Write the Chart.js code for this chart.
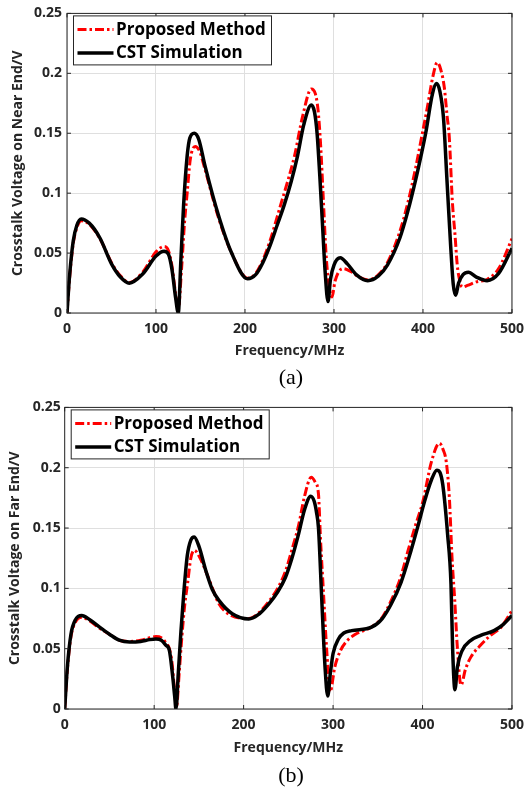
<!DOCTYPE html>
<html>
<head>
<meta charset="utf-8">
<script src="https://cdn.jsdelivr.net/npm/chart.js@4.4.1/dist/chart.umd.min.js"></script>
<style>
  body { margin: 0; background: #fff; width: 532px; height: 795px; position: relative; overflow: hidden; }
  .panel { position: absolute; left: 0; width: 532px; }
  .caption { position: absolute; width: 60px; text-align: center; font-family: "Liberation Serif", serif; font-size: 22px; line-height: 26px; color: #000; }
</style>
</head>
<body>
<div class="panel" style="top:0px;height:390px"><canvas id="near" width="532" height="390"></canvas></div>
<div class="panel" style="top:395px;height:400px"><canvas id="far" width="532" height="400"></canvas></div>
<div class="caption" style="left:261px;top:364px">(a)</div>
<div class="caption" style="left:261px;top:762px">(b)</div>
<script>
// (a) near end crosstalk
const nearFreqCST = [0, 3, 7, 11, 16, 25, 37, 50, 60, 70, 85, 100, 109, 114, 118, 122, 125, 128, 131, 135, 138, 143, 148, 155, 170, 185, 203, 212, 220, 228, 236, 244, 252, 259, 266, 274.5, 278, 281, 284, 287, 290, 293.3, 296, 300, 307, 315, 325, 338, 350, 360, 374, 383, 392, 398, 403, 410.7, 415, 419, 423, 427, 431, 434, 436.7, 440, 445, 451, 460, 472, 485, 500];
const nearCST = [0, 0.032, 0.06, 0.073, 0.0785, 0.075, 0.0626, 0.041, 0.03, 0.0249, 0.0325, 0.0475, 0.0515, 0.049, 0.036, 0.013, 0, 0.045, 0.09, 0.131, 0.146, 0.150, 0.145, 0.123, 0.082, 0.050, 0.0285, 0.032, 0.042, 0.056, 0.073, 0.090, 0.110, 0.131, 0.157, 0.1735, 0.168, 0.150, 0.115, 0.075, 0.035, 0.0095, 0.028, 0.040, 0.046, 0.041, 0.032, 0.027, 0.031, 0.040, 0.0626, 0.085, 0.112, 0.132, 0.150, 0.183, 0.1915, 0.185, 0.163, 0.11, 0.057, 0.024, 0.0148, 0.025, 0.032, 0.034, 0.030, 0.027, 0.033, 0.054];
const nearFreqProp = [0, 3, 7, 11, 16, 25, 37, 50, 60, 70, 85, 100, 109, 114, 118, 122, 125, 129, 132, 135, 138.5, 144, 149, 155, 170, 185, 203, 212, 220, 228, 240, 248, 255.6, 265, 274.5, 279, 282, 285, 288, 291, 294, 297.8, 301, 305, 310, 318, 328, 338, 350, 360, 374, 383, 392, 398, 405, 411, 416, 420, 424, 427, 429.5, 433, 436, 438.5, 441, 444, 450, 460, 472, 485, 500];
const nearProp = [0, 0.03, 0.058, 0.071, 0.077, 0.074, 0.062, 0.042, 0.031, 0.0255, 0.034, 0.051, 0.0555, 0.052, 0.039, 0.016, 0.003, 0.04, 0.075, 0.10, 0.128, 0.139, 0.135, 0.12, 0.080, 0.050, 0.029, 0.033, 0.044, 0.060, 0.090, 0.110, 0.131, 0.165, 0.187, 0.183, 0.170, 0.140, 0.095, 0.05, 0.025, 0.0134, 0.026, 0.034, 0.037, 0.035, 0.030, 0.0275, 0.032, 0.042, 0.068, 0.092, 0.122, 0.145, 0.172, 0.197, 0.209, 0.203, 0.188, 0.165, 0.147, 0.093, 0.065, 0.04, 0.028, 0.0216, 0.023, 0.026, 0.028, 0.037, 0.062];

// (b) far end crosstalk
const farFreqCST = [0, 3, 7, 12, 19, 28, 39, 50, 61, 72.6, 85, 95, 102, 108, 113, 117, 120.7, 123, 124.4, 127, 130, 133, 137, 141, 144.8, 150, 157.8, 165, 172.6, 187.3, 205.9, 216, 228, 238, 246.7, 254, 261.4, 268, 275, 279, 281.5, 283.7, 287.4, 291, 294, 297, 300, 306, 312, 320.7, 343, 355, 365, 376, 387, 395, 402.2, 410, 416, 419.5, 422.6, 428, 431.8, 433.7, 436.2, 439, 444, 454, 465, 480, 490, 500];
const farCST = [0, 0.035, 0.062, 0.074, 0.0775, 0.074, 0.0678, 0.062, 0.057, 0.0555, 0.056, 0.0575, 0.058, 0.057, 0.053, 0.0486, 0.027, 0.01, 0, 0.03, 0.065, 0.095, 0.127, 0.140, 0.1426, 0.135, 0.1146, 0.099, 0.0898, 0.079, 0.0747, 0.078, 0.087, 0.097, 0.109, 0.125, 0.145, 0.165, 0.1764, 0.172, 0.163, 0.150, 0.09, 0.035, 0.0107, 0.03, 0.046, 0.058, 0.063, 0.065, 0.0678, 0.075, 0.087, 0.105, 0.131, 0.152, 0.172, 0.19, 0.198, 0.196, 0.186, 0.145, 0.1036, 0.0486, 0.016, 0.035, 0.048, 0.0569, 0.061, 0.065, 0.070, 0.0775];
const farFreqProp = [0, 3, 7, 12, 19, 28, 39, 50, 61, 72.6, 85, 95, 102, 108, 113, 117, 120, 122.5, 125, 128, 131, 134, 137.5, 141, 145, 150, 160, 172.6, 185, 205.9, 216, 228, 238, 246.7, 254, 261.4, 268, 275.5, 280, 283.7, 286, 289, 292.9, 296.7, 302, 308, 315, 325, 343, 355, 365, 375, 383.7, 392, 400.4, 410, 418.9, 423, 426.5, 430, 433, 436, 439, 443, 448, 454, 465, 476, 488, 500];
const farProp = [0, 0.033, 0.06, 0.072, 0.076, 0.073, 0.067, 0.062, 0.057, 0.056, 0.057, 0.059, 0.060, 0.059, 0.055, 0.050, 0.038, 0.018, 0.002, 0.03, 0.06, 0.085, 0.105, 0.125, 0.1316, 0.127, 0.110, 0.087, 0.078, 0.075, 0.079, 0.089, 0.100, 0.114, 0.132, 0.152, 0.176, 0.192, 0.188, 0.178, 0.14, 0.10, 0.0486, 0.0143, 0.035, 0.048, 0.056, 0.062, 0.068, 0.076, 0.09, 0.108, 0.131, 0.152, 0.172, 0.205, 0.2203, 0.215, 0.205, 0.175, 0.125, 0.09, 0.05, 0.0198, 0.033, 0.043, 0.053, 0.061, 0.068, 0.0816];

const xTicks = [0, 100, 200, 300, 400, 500];
const yTicks = [0, 0.05, 0.1, 0.15, 0.2, 0.25];
const yTickLabels = ["0", "0.05", "0.1", "0.15", "0.2", "0.25"];
const seriesNames = ["Proposed Method", "CST Simulation"];
const xTitle = "Frequency/MHz";
const yTitles = ["Crosstalk Voltage on Near End/V", "Crosstalk Voltage on Far End/V"];

const axisColor = "#262626";
const fontFamily = "'Open Sans', sans-serif";

const toPoints = (xs, ys) => xs.map((x, i) => ({ x, y: ys[i] }));

// MATLAB style box + inward tick marks
const framePlugin = {
  id: "frame",
  afterDatasetsDraw(chart) {
    const { ctx, chartArea: a, scales } = chart;
    ctx.save();
    ctx.strokeStyle = axisColor;
    ctx.lineWidth = 1;
    ctx.strokeRect(a.left, a.top, a.right - a.left, a.bottom - a.top);
    ctx.beginPath();
    xTicks.forEach(v => {
      const px = scales.x.getPixelForValue(v);
      ctx.moveTo(px, a.bottom); ctx.lineTo(px, a.bottom - 4);
      ctx.moveTo(px, a.top); ctx.lineTo(px, a.top + 4);
    });
    yTicks.forEach(v => {
      const py = scales.y.getPixelForValue(v);
      ctx.moveTo(a.left, py); ctx.lineTo(a.left + 4, py);
      ctx.moveTo(a.right, py); ctx.lineTo(a.right - 4, py);
    });
    ctx.stroke();
    ctx.restore();
  }
};

// boxed legend inside the plot, upper left
const boxLegend = {
  id: "boxLegend",
  afterDraw(chart) {
    const { ctx, chartArea: a } = chart;
    const bx = a.left + 6.5, by = a.top + 2.5, bw = 198, bh = 49;
    ctx.save();
    ctx.fillStyle = "#fff";
    ctx.fillRect(bx, by, bw, bh);
    ctx.strokeStyle = axisColor;
    ctx.lineWidth = 1;
    ctx.strokeRect(bx, by, bw, bh);
    chart.data.datasets.forEach((ds, i) => {
      const y = by + 13.5 + i * 23.5;
      ctx.beginPath();
      ctx.setLineDash(ds.borderDash || []);
      ctx.strokeStyle = ds.borderColor;
      ctx.lineWidth = ds.borderWidth;
      ctx.moveTo(bx + 4, y);
      ctx.lineTo(bx + 40, y);
      ctx.stroke();
      ctx.setLineDash([]);
      ctx.fillStyle = "#000";
      ctx.font = "bold 17px " + fontFamily;
      ctx.textBaseline = "middle";
      ctx.fillText(ds.label, bx + 42.5, y + 0.5);
    });
    ctx.restore();
  }
};

function makeChart(id, propPts, cstPts, yTitle, lay) {
  const ctx = document.getElementById(id).getContext("2d");
  return new Chart(ctx, {
    type: "line",
    data: {
      datasets: [
        {
          label: seriesNames[0],
          data: propPts,
          borderColor: "#ff0000",
          borderWidth: 3,
          borderDash: [9, 3, 2.5, 3],
          pointRadius: 0,
          cubicInterpolationMode: "monotone",
          fill: false,
          order: 2,
        },
        {
          label: seriesNames[1],
          data: cstPts,
          borderColor: "#000000",
          borderWidth: 3.5,
          pointRadius: 0,
          cubicInterpolationMode: "monotone",
          fill: false,
          order: 1,
        },
      ],
    },
    options: {
      responsive: false,
      animation: false,
      layout: { padding: { top: lay.top, right: lay.right, bottom: 0, left: 0 } },
      plugins: { legend: { display: false }, tooltip: { enabled: false } },
      scales: {
        x: {
          type: "linear",
          min: 0,
          max: 500,
          afterBuildTicks: s => { s.ticks = xTicks.map(v => ({ value: v })); },
          afterFit: s => { s.height = lay.xh; },
          grid: { color: "#dfdfdf", drawTicks: false },
          border: { display: false },
          ticks: { color: axisColor, padding: 8, maxRotation: 0, font: { family: fontFamily, size: 14, weight: "bold" } },
          title: { display: true, text: xTitle, color: axisColor, padding: { top: 0, bottom: lay.xtp }, font: { family: fontFamily, size: 14, weight: "bold" } },
        },
        y: {
          min: 0,
          max: 0.25,
          afterBuildTicks: s => { s.ticks = yTicks.map(v => ({ value: v })); },
          afterFit: s => { s.width = lay.left; },
          grid: { color: "#dfdfdf", drawTicks: false },
          border: { display: false },
          ticks: {
            color: axisColor,
            padding: lay.ytp,
            font: { family: fontFamily, size: 14, weight: "bold" },
            callback: (v, i) => yTickLabels[i],
          },
          title: { display: true, text: yTitle, color: axisColor, padding: { top: lay.ttp, bottom: 0 }, font: { family: fontFamily, size: 14, weight: "bold" } },
        },
      },
    },
    plugins: [framePlugin, boxLegend],
  });
}

makeChart("near", toPoints(nearFreqProp, nearProp), toPoints(nearFreqCST, nearCST), yTitles[0],
  { top: 8, right: 14.5, left: 67, xh: 77, xtp: 30.6, ytp: 5, ttp: 10 });
makeChart("far", toPoints(farFreqProp, farProp), toPoints(farFreqCST, farCST), yTitles[1],
  { top: 10.7, right: 16.3, left: 64.7, xh: 86, xtp: 38.6, ytp: 4, ttp: 7 });
</script>
</body>
</html>
